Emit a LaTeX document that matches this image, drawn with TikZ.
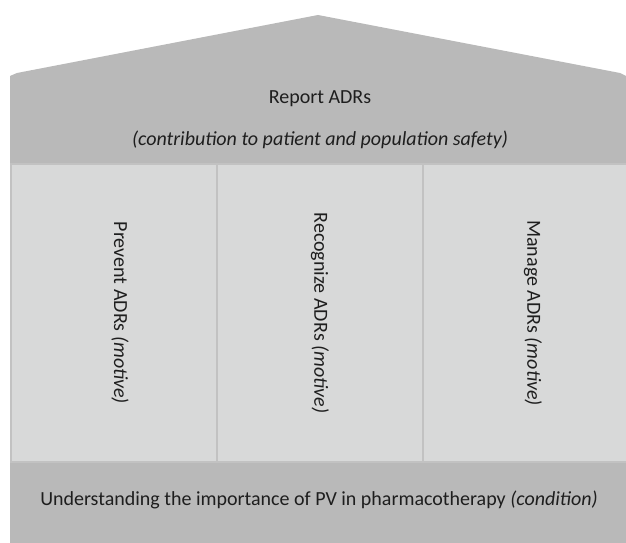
\documentclass[tikz,border=0pt]{standalone}
\usepackage{fontspec}
\setmainfont{Carlito}
\definecolor{roofgray}{HTML}{B9B9B9}
\definecolor{colfill}{HTML}{D8D9D9}
\definecolor{colline}{HTML}{C2C2C2}
\definecolor{txt}{HTML}{1E1E1E}
\begin{document}
\begin{tikzpicture}[x=1pt,y=1pt,
  colbox/.style={fill=colfill,draw=colline,line width=1.2pt},
  lbl/.style={text=txt,font=\fontsize{20}{23}\selectfont,inner sep=0pt},
  vlbl/.style={lbl,rotate=-90}]
\useasboundingbox (0,0) rectangle (626,543);
\fill[roofgray] (10,0) -- (10,467) -- (17,470) -- (318,528) -- (620,470) -- (626,467) -- (626,0) -- cycle;
\node[lbl] (report) at (320,444) {Report ADRs};
\node[lbl] (contrib) at (320,403) {\textit{(contribution to patient and population safety)}};
\draw[colbox] (11,81) rectangle (217,379);
\draw[colbox] (217,81) rectangle (423,379);
\draw[colbox] (423,81) rectangle (627,379);
\node[vlbl] (prevent) at (120,230) {Prevent ADRs \textit{(motive)}};
\node[vlbl] (recog) at (320,230) {Recognize ADRs \textit{(motive)}};
\node[vlbl] (manage) at (533,230) {Manage ADRs \textit{(motive)}};
\node[lbl] (cond) at (319,43) {Understanding the importance of PV in pharmacotherapy \textit{(condition)}};
\end{tikzpicture}
\end{document}
